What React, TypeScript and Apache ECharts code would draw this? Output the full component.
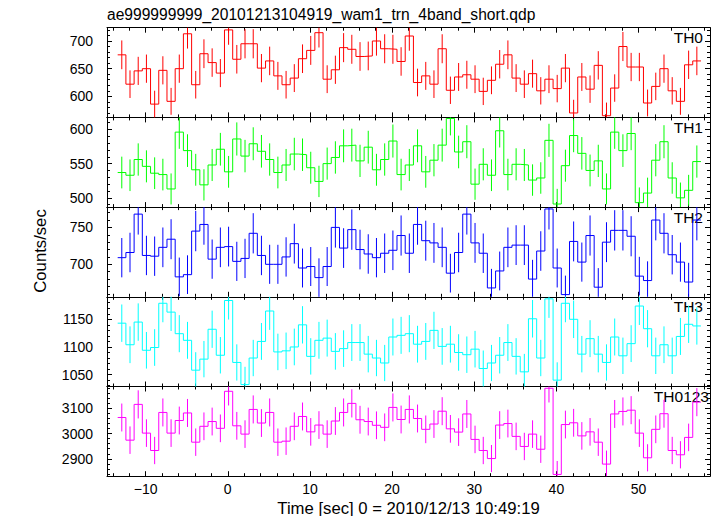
import React, { useEffect, useRef } from 'react';
import * as echarts from 'echarts';

const TITLE = 'ae999999999_20101213104919_wam1_trn_4band_short.qdp';
const X_LABEL = 'Time [sec] 0 = 2010/12/13 10:49:19';
const Y_LABEL = 'Counts/sec';

const BIN_START = -13.4;
const BIN_WIDTH = 1;

const TH0 = [675, 622, 646, 650, 586, 647, 591, 650, 713, 621, 677, 661, 642, 720, 667, 695, 695, 651, 664, 637, 621, 633, 668, 683, 715, 631, 648, 688, 685, 672, 673, 700, 686, 685, 663, 709, 625, 637, 622, 686, 611, 635, 639, 631, 609, 629, 658, 675, 633, 622, 641, 610, 631, 614, 651, 570, 635, 613, 656, 565, 615, 690, 653, 653, 588, 618, 650, 610, 591, 657, 664];
const TH1 = [537, 533, 556, 546, 536, 534, 513, 596, 569, 541, 519, 548, 571, 538, 586, 561, 579, 568, 556, 537, 548, 564, 563, 544, 524, 550, 559, 576, 577, 554, 574, 541, 556, 583, 534, 548, 576, 538, 555, 577, 616, 567, 582, 520, 549, 533, 598, 534, 549, 548, 526, 529, 584, 491, 547, 591, 565, 540, 554, 513, 596, 569, 594, 493, 507, 555, 582, 529, 500, 511, 553];
const TH2 = [709, 716, 768, 712, 711, 723, 734, 683, 686, 745, 754, 707, 723, 724, 704, 708, 742, 712, 700, 700, 710, 728, 695, 697, 682, 697, 750, 722, 747, 720, 714, 709, 715, 719, 739, 715, 754, 732, 729, 723, 688, 716, 768, 729, 715, 668, 691, 723, 726, 726, 680, 718, 775, 695, 659, 731, 703, 739, 669, 730, 746, 746, 738, 684, 678, 760, 742, 713, 703, 676, 760];
const TH3 = [1143, 1104, 1145, 1094, 1099, 1179, 1163, 1124, 1112, 1058, 1078, 1132, 1085, 1184, 1072, 1032, 1080, 1110, 1165, 1091, 1093, 1100, 1140, 1083, 1112, 1116, 1092, 1097, 1108, 1108, 1087, 1080, 1071, 1118, 1121, 1124, 1105, 1110, 1130, 1101, 1105, 1090, 1086, 1096, 1061, 1071, 1085, 1108, 1083, 1055, 1151, 1080, 1187, 1040, 1179, 1150, 1087, 1115, 1087, 1072, 1118, 1084, 1106, 1174, 1133, 1084, 1104, 1084, 1119, 1141, 1138];
const TH0123 = [3064, 2974, 3116, 3002, 2933, 3084, 3002, 3052, 3082, 2966, 3029, 3048, 3021, 3168, 3031, 2998, 3096, 3042, 3084, 2966, 2970, 3029, 3068, 3007, 3034, 2998, 3050, 3084, 3120, 3055, 3048, 3033, 3025, 3104, 3056, 3096, 3060, 3017, 3038, 3089, 3019, 3006, 3078, 2977, 2933, 2901, 3034, 3040, 2989, 2949, 2998, 2938, 3180, 2838, 3036, 3043, 2991, 3007, 2966, 2879, 3078, 3088, 3093, 3002, 2904, 3017, 3079, 2933, 2916, 2985, 3125];

const PANEL_DATA = [TH0, TH1, TH2, TH3, TH0123];
const PANEL_NAMES = ['TH0', 'TH1', 'TH2', 'TH3', 'TH0123'];
const PANEL_COLORS = ['#ff0000', '#00ff00', '#0000ff', '#00ffff', '#ff00ff'];
const Y_MIN = [562, 486.5, 656, 1028.5, 2831];
const Y_MAX = [724, 617.5, 777.5, 1190.7, 3187];
const Y_MAJOR = [50, 50, 50, 50, 100];
const X_MIN = -14.7;
const X_MAX = 58.7;
const X_MAJOR = 10;

const FONT = '"Liberation Sans", Arial, Helvetica, sans-serif';
const GRID_LEFT = 107;
const GRID_RIGHT = 7;
const PANEL_TOP = 27.7;
const PANEL_H = 89.7;
const LABEL_RIGHT = [703, 703, 703, 703, 709];

function isMajor(v: number, step: number) {
  return Math.abs(v / step - Math.round(v / step)) < 1e-6;
}
function fmt(v: number) {
  const r = Math.round(v);
  return r < 0 ? '\u2212' + Math.abs(r) : String(r);
}

function buildStep(values: number[]) {
  const pts: number[][] = [];
  values.forEach((v, k) => {
    const l = BIN_START + k * BIN_WIDTH;
    pts.push([l, v], [l + BIN_WIDTH, v]);
  });
  return pts;
}
function buildErr(values: number[]) {
  return values.map((v, k) => [BIN_START + (k + 0.5) * BIN_WIDTH, v, Math.sqrt(v)]);
}

export default function App() {
  const ref = useRef<HTMLDivElement>(null);
  useEffect(() => {
    document.body.style.margin = '0';
    const chart = echarts.init(ref.current!, null, { renderer: 'svg' });
    const axisCommon = {
      axisLine: { show: true, onZero: false, lineStyle: { color: '#000', width: 1 } },
      axisTick: { show: true, inside: true, length: 5, lineStyle: { color: '#000', width: 1 } },
      minorTick: { show: true, splitNumber: 5, length: 3, lineStyle: { color: '#000', width: 1 } },
      splitLine: { show: false },
    };
    const grids: any[] = [];
    const xAxes: any[] = [];
    const yAxes: any[] = [];
    const series: any[] = [];
    const graphics: any[] = [];
    PANEL_DATA.forEach((vals, i) => {
      const top = PANEL_TOP + i * PANEL_H;
      grids.push({ left: GRID_LEFT, right: GRID_RIGHT, top, height: PANEL_H, containLabel: false });
      const isLast = i === PANEL_DATA.length - 1;
      xAxes.push({
        ...axisCommon,
        type: 'value', gridIndex: i, position: 'bottom', min: X_MIN, max: X_MAX, splitNumber: 7,
        axisLabel: {
          show: isLast, margin: 6, color: '#000', fontFamily: FONT, fontSize: 14,
          formatter: (v: number) => (isMajor(v, X_MAJOR) ? fmt(v) : ''),
        },
      });
      xAxes.push({
        ...axisCommon,
        type: 'value', gridIndex: i, position: 'top', min: X_MIN, max: X_MAX, splitNumber: 7,
        axisLabel: { show: false },
      });
      yAxes.push({
        ...axisCommon,
        type: 'value', gridIndex: i, position: 'left', min: Y_MIN[i], max: Y_MAX[i], splitNumber: 3,
        axisLabel: {
          show: true, margin: 14, color: '#000', fontFamily: FONT, fontSize: 14,
          formatter: (v: number) => (isMajor(v, Y_MAJOR[i]) ? fmt(v) : ''),
        },
      });
      yAxes.push({
        ...axisCommon,
        type: 'value', gridIndex: i, position: 'right', min: Y_MIN[i], max: Y_MAX[i], splitNumber: 3,
        axisLabel: { show: false },
      });
      const color = PANEL_COLORS[i];
      series.push({
        type: 'line', name: PANEL_NAMES[i], xAxisIndex: 2 * i, yAxisIndex: 2 * i,
        data: buildStep(vals), showSymbol: false, symbol: 'none', clip: true,
        lineStyle: { color, width: 1 }, itemStyle: { color },
      });
      series.push({
        type: 'custom', name: PANEL_NAMES[i] + ' err', xAxisIndex: 2 * i, yAxisIndex: 2 * i,
        data: buildErr(vals), encode: { x: 0, y: 1 },
        renderItem: (params: any, api: any) => {
          const x = api.value(0), v = api.value(1), e = api.value(2);
          const p1 = api.coord([x, v - e]);
          const p2 = api.coord([x, v + e]);
          const cs = params.coordSys;
          const t = cs.y, b = cs.y + cs.height;
          const y1 = Math.min(Math.max(p1[1], t), b);
          const y2 = Math.min(Math.max(p2[1], t), b);
          return { type: 'line', shape: { x1: p1[0], y1, x2: p2[0], y2 }, style: { stroke: color, lineWidth: 1 } };
        },
      });
      graphics.push({
        type: 'text', x: LABEL_RIGHT[i], y: top + 10,
        style: { text: PANEL_NAMES[i], fill: '#000', font: `15.5px ${FONT}`, textAlign: 'right', textVerticalAlign: 'middle' },
      });
    });
    graphics.push({
      type: 'text', x: GRID_LEFT, y: 14.5,
      style: { text: TITLE, fill: '#000', font: `15.6px ${FONT}`, textAlign: 'left', textVerticalAlign: 'middle' },
    });
    graphics.push({
      type: 'text', x: 408.5, y: 508,
      style: { text: X_LABEL, fill: '#000', font: `16.7px ${FONT}`, textAlign: 'center', textVerticalAlign: 'middle' },
    });
    graphics.push({
      type: 'text', x: 40, y: 251, rotation: Math.PI / 2,
      style: { text: Y_LABEL, fill: '#000', font: `16.7px ${FONT}`, textAlign: 'center', textVerticalAlign: 'middle' },
    });
    chart.setOption({
      animation: false,
      backgroundColor: '#fff',
      grid: grids,
      xAxis: xAxes,
      yAxis: yAxes,
      series,
      graphic: graphics,
    });
    return () => chart.dispose();
  }, []);
  return <div ref={ref} style={{ position: 'fixed', left: 0, top: 0, width: 717, height: 516 }} />;
}
